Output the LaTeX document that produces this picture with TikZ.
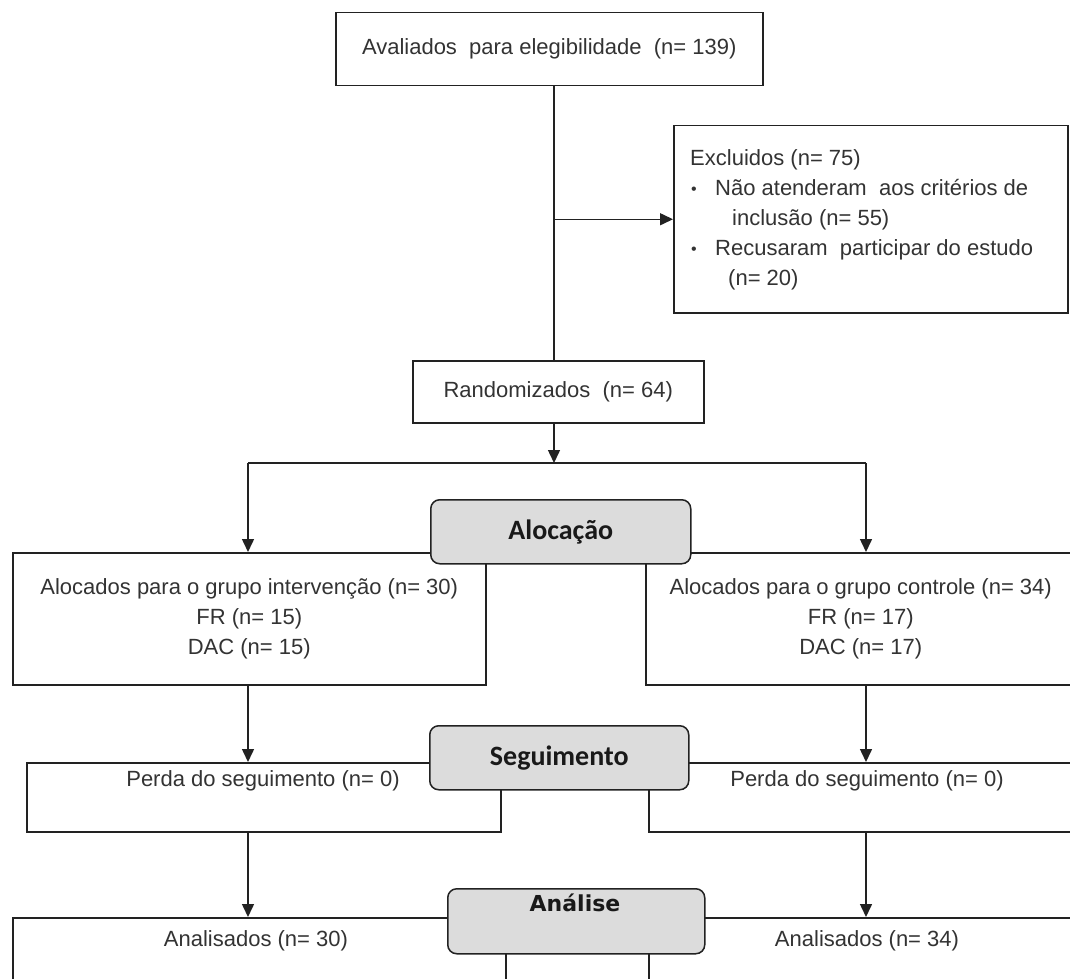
\documentclass[tikz,border=0pt]{standalone}
\usepackage{fontspec}
\setmainfont{Liberation Sans}
\newfontfamily\calib{Carlito}
\newfontfamily\dejavu{DejaVu Sans}
\usetikzlibrary{arrows.meta}
\definecolor{lncol}{HTML}{222222}
\definecolor{txcol}{HTML}{333333}
\definecolor{stagefill}{HTML}{DCDCDC}
\begin{document}
\begin{tikzpicture}[x=1pt,y=-1pt,
  box/.style={draw=lncol, line width=1.5pt, inner sep=0pt, fill=white, anchor=north west,
    text=txcol, font=\fontsize{22}{30}\selectfont, align=center},
  txt/.style={text=txcol, font=\fontsize{22}{30}\selectfont, inner sep=0pt},
  stage/.style={draw=lncol, line width=1.5pt, fill=stagefill, rounded corners=9pt, inner sep=0pt,
    anchor=north west, text=black!90, font=\calib\bfseries\fontsize{28}{30}\selectfont},
  arr/.style={-{Triangle[length=13pt,width=12pt]}, line width=1.5pt, draw=lncol},
  ln/.style={line width=1.5pt, draw=lncol}]
\useasboundingbox (0,0) rectangle (1070,979);
\coordinate (spine) at (554,0);
\coordinate (colL) at (248,0);
\coordinate (colR) at (866,0);
\coordinate (split) at (554,463);

% top part
\node[box, minimum width=427pt, minimum height=73pt] (elig) at (335,12) {Avaliados\ \ para elegibilidade\ \ (n= 139)};
\node[box, minimum width=394pt, minimum height=187pt] (exc) at (673,125) {};
\node[txt, anchor=north west, align=left] (exctxt) at (690,149)
  {Excluidos (n= 75)\\
   \hspace*{1pt}\makebox[24pt][l]{\fontsize{16}{16}\selectfont\raisebox{1pt}{•}}Não atenderam\ \ aos critérios de\\
   \hspace*{42pt}inclusão (n= 55)\\
   \hspace*{1pt}\makebox[24pt][l]{\fontsize{16}{16}\selectfont\raisebox{1pt}{•}}Recusaram\ \ participar do estudo\\
   \hspace*{38pt}(n= 20)};
\node[box, minimum width=291pt, minimum height=62pt] (rand) at (412,360) {Randomizados\ \ (n= 64)};

% allocation
\node[box, minimum width=473pt, minimum height=132pt] (allocL) at (12,552)
  {Alocados\ para o grupo\ intervenção\ (n= 30)\\FR (n=\ 15)\\DAC (n= 15)};
\node[box, minimum width=430pt, minimum height=132pt] (allocR) at (645,552)
  {Alocados\ para o grupo\ controle (n= 34)\\FR (n=\ 17)\\DAC (n= 17)};
\node[stage, minimum width=260pt, minimum height=64pt] (alocacao) at (430,499) {Alocação};

% follow-up
\node[box, minimum width=474pt, minimum height=69pt] (perdaL) at (26,762) {};
\node[txt] (perdaLtxt) at (263,781) {Perda\ do\ seguimento\ (n= 0)};
\node[box, minimum width=438pt, minimum height=69pt] (perdaR) at (648,762) {};
\node[txt] (perdaRtxt) at (867,781) {Perda\ do\ seguimento\ (n= 0)};
\node[stage, minimum width=259pt, minimum height=64pt] (seguimento) at (429,725) {Seguimento};

% analysis
\node[box, minimum width=493pt, minimum height=100pt] (analL) at (12,917) {};
\node[txt] (analLtxt) at (256,941) {Analisados (n= 30)};
\node[box, minimum width=438pt, minimum height=100pt] (analR) at (648,917) {};
\node[txt] (analRtxt) at (867,941) {Analisados (n= 34)};
\node[stage, minimum width=257pt, minimum height=65pt] (analise) at (447,888) {};
\node[inner sep=0pt, text=black!90, font=\dejavu\bfseries\fontsize{22}{24}\selectfont] (analisetxt) at (575,903) {Análise};

% connectors
\draw[ln] (spine |- elig.south) -- (spine |- rand.north);
\draw[arr] (spine |- exc.west) -- (exc.west);
\draw[arr] (spine |- rand.south) -- (split);
\draw[ln] (colL |- split) -- (colR |- split);
\draw[arr] (colL |- split) -- (colL |- allocL.north);
\draw[arr] (colR |- split) -- (colR |- allocR.north);
\draw[arr] (colL |- allocL.south) -- (colL |- perdaL.north);
\draw[arr] (colR |- allocR.south) -- (colR |- perdaR.north);
\draw[arr] (colL |- perdaL.south) -- (colL |- analL.north);
\draw[arr] (colR |- perdaR.south) -- (colR |- analR.north);
\end{tikzpicture}
\end{document}
